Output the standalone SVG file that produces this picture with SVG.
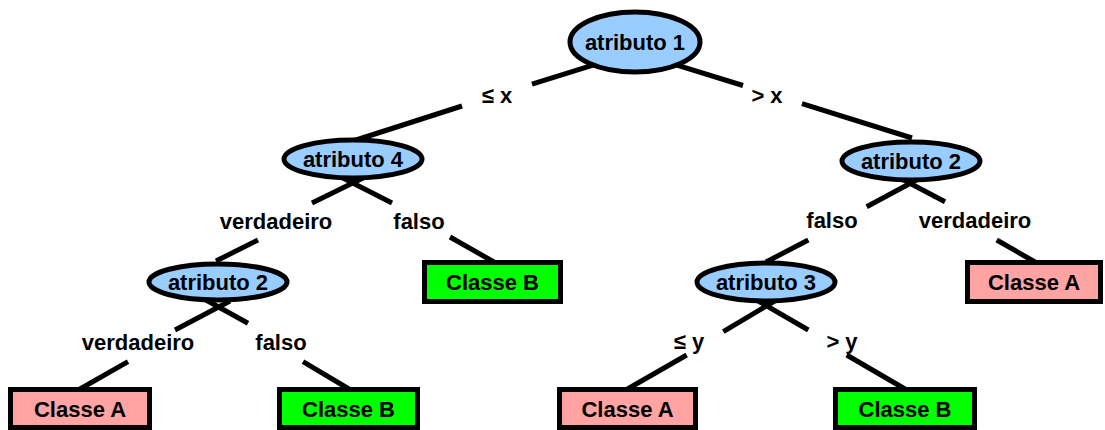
<svg xmlns="http://www.w3.org/2000/svg" width="1105" height="430" viewBox="0 0 1105 430">
<style>
  .conn line { stroke: #000; stroke-width: 5; }
  .ell { fill: #99CCFF; stroke: #000; stroke-width: 5; }
  .boxA { fill: #FFA3A3; stroke: #000; stroke-width: 5; }
  .boxB { fill: #00FF00; stroke: #000; stroke-width: 5; }
  text { font-family: "Liberation Sans", Arial, sans-serif; font-weight: bold; font-size: 22px; text-anchor: middle; fill: #000; }
</style>
<rect x="0" y="0" width="1105" height="430" fill="#fff"/>
<g id="connectors" class="conn">
  <line x1="605" y1="61.4" x2="532" y2="84.2"/>
  <line x1="462" y1="106" x2="353" y2="141"/>
  <line x1="668" y1="62.4" x2="743" y2="85.5"/>
  <line x1="802" y1="103.7" x2="912" y2="138"/>
  <line x1="365" y1="177" x2="312" y2="203"/>
  <line x1="258" y1="240" x2="216" y2="261"/>
  <line x1="341" y1="177" x2="392" y2="203"/>
  <line x1="450" y1="237" x2="494" y2="262"/>
  <line x1="230" y1="301" x2="175" y2="330"/>
  <line x1="128" y1="361.7" x2="80" y2="389"/>
  <line x1="206" y1="300" x2="248" y2="323.3"/>
  <line x1="303" y1="361.7" x2="349" y2="389"/>
  <line x1="922" y1="177" x2="866.7" y2="206.7"/>
  <line x1="808.3" y1="240" x2="766" y2="262"/>
  <line x1="898" y1="177" x2="945" y2="201.7"/>
  <line x1="996.7" y1="240" x2="1035" y2="262"/>
  <line x1="778" y1="299" x2="723.3" y2="331.7"/>
  <line x1="686.7" y1="355" x2="627.5" y2="389"/>
  <line x1="755" y1="299" x2="808.3" y2="330"/>
  <line x1="846.7" y1="355" x2="905" y2="389"/>
  <g id="labels">
    <text x="497" y="103">≤ x</text>
    <text x="767" y="103">&gt; x</text>
    <text x="276" y="229">verdadeiro</text>
    <text x="419" y="229">falso</text>
    <text x="832" y="228">falso</text>
    <text x="975" y="228">verdadeiro</text>
    <text x="138" y="350">verdadeiro</text>
    <text x="281" y="350">falso</text>
    <text x="689" y="349">≤ y</text>
    <text x="842" y="349">&gt; y</text>
  </g>
</g>
<g id="n-atributo1"><ellipse class="ell" cx="635" cy="42" rx="65" ry="30"/><text x="635" y="50">atributo 1</text></g>
<g id="n-atributo4"><ellipse class="ell" cx="353" cy="159" rx="69" ry="19"/><text x="353" y="167">atributo 4</text></g>
<g id="n-atributo2r"><ellipse class="ell" cx="911" cy="161" rx="69" ry="19"/><text x="911" y="169">atributo 2</text></g>
<g id="n-atributo2l"><ellipse class="ell" cx="218" cy="282" rx="69" ry="18"/><text x="218" y="290">atributo 2</text></g>
<g id="n-atributo3"><ellipse class="ell" cx="766" cy="282" rx="69" ry="19"/><text x="766" y="290">atributo 3</text></g>
<g id="n-classeB-mid"><rect class="boxB" x="424.5" y="262.5" width="136" height="39"/><text x="492.5" y="290">Classe B</text></g>
<g id="n-classeA-right"><rect class="boxA" x="967.5" y="262.5" width="133" height="39"/><text x="1034" y="290">Classe A</text></g>
<g id="n-classeA-bl"><rect class="boxA" x="10.5" y="389.5" width="139" height="38"/><text x="80" y="417">Classe A</text></g>
<g id="n-classeB-bl"><rect class="boxB" x="279.5" y="389.5" width="138" height="38"/><text x="348.5" y="417">Classe B</text></g>
<g id="n-classeA-bm"><rect class="boxA" x="559.5" y="389.5" width="136" height="38"/><text x="627.5" y="417">Classe A</text></g>
<g id="n-classeB-br"><rect class="boxB" x="835.5" y="389.5" width="139" height="38"/><text x="905" y="417">Classe B</text></g>
</svg>
